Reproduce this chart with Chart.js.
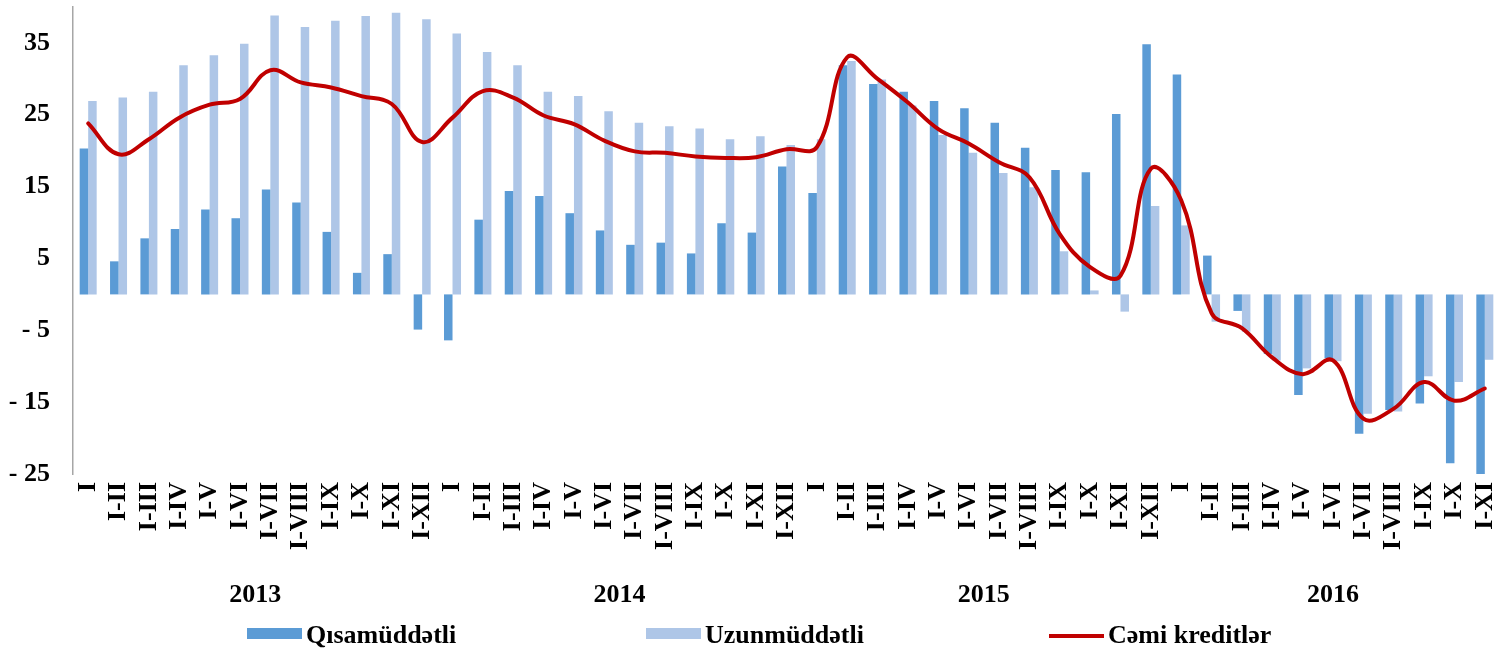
<!DOCTYPE html>
<html><head><meta charset="utf-8">
<script src="https://cdn.jsdelivr.net/npm/chart.js@4.4.0/dist/chart.umd.min.js"></script>
<style>html,body{margin:0;padding:0;background:#fff;overflow:hidden;}</style>
</head><body>
<canvas id="c" width="1512" height="654" style="display:block;width:1512px;height:654px"></canvas>
<script>
const categories = [
  'I','I-II','I-III','I-IV','I-V','I-VI','I-VII','I-VIII','I-IX','I-X','I-XI','I-XII',
  'I','I-II','I-III','I-IV','I-V','I-VI','I-VII','I-VIII','I-IX','I-X','I-XI','I-XII',
  'I','I-II','I-III','I-IV','I-V','I-VI','I-VII','I-VIII','I-IX','I-X','I-XI','I-XII',
  'I','I-II','I-III','I-IV','I-V','I-VI','I-VII','I-VIII','I-IX','I-X','I-XI'
];
const yearLabels = ['2013','2014','2015','2016'];
const yearGroupSizes = [12, 12, 12, 11];
const seriesNames = ['Qısamüddətli', 'Uzunmüddətli', 'Cəmi kreditlər'];
const shortTerm = [
  20.3, 4.6, 7.8, 9.1, 11.8, 10.6, 14.6, 12.8, 8.7, 3.0, 5.6, -4.9,
  -6.4, 10.4, 14.4, 13.7, 11.3, 8.9, 6.9, 7.2, 5.7, 9.9, 8.6, 17.8,
  14.1, 31.9, 29.3, 28.2, 26.9, 25.9, 23.9, 20.4, 17.3, 17.0, 25.1, 34.8,
  30.6, 5.4, -2.3, -8.3, -14.0, -8.9, -19.4, -16.1, -15.2, -23.5, -25.4
];
const longTerm = [
  26.9, 27.4, 28.2, 31.9, 33.3, 34.9, 38.8, 37.2, 38.1, 38.75, 39.2, 38.3,
  36.3, 33.75, 31.9, 28.2, 27.6, 25.5, 23.9, 23.4, 23.1, 21.6, 22.0, 20.8,
  21.6, 32.5, 29.9, 26.3, 22.2, 19.7, 16.9, 14.9, 6.0, 0.55, -2.4, 12.3,
  9.6, -3.8, -5.2, -9.2, -10.3, -9.3, -16.6, -16.3, -11.4, -12.2, -9.1
];
const totalCredit = [
  23.8, 19.5, 21.6, 24.6, 26.4, 27.2, 31.2, 29.5, 28.8, 27.6, 26.5, 21.2,
  24.6, 28.3, 27.4, 24.9, 23.7, 21.4, 19.9, 19.7, 19.2, 19.0, 19.1, 20.2,
  20.5, 33.0, 30.0, 26.7, 23.0, 21.0, 18.4, 16.3, 8.4, 3.8, 2.6, 17.5,
  13.1, -2.6, -4.7, -8.8, -11.1, -9.2, -17.3, -15.9, -12.2, -14.8, -13.1
];
const yTickValues = [-25, -15, -5, 5, 15, 25, 35];
const yTickLabels = ['- 25', '- 15', '- 5', '5', '15', '25', '35'];

const FONT_FAMILY = '"Liberation Serif", "Times New Roman", serif';
const baseFont = { family: FONT_FAMILY, size: 26, weight: 'bold' };
const COLORS = ['#5B9BD5', '#AEC6E7', '#C00000'];

const annotPlugin = {
  id: 'annot',
  afterDraw(chart) {
    const ctx = chart.ctx;
    const xs = chart.scales.x;
    ctx.save();
    ctx.font = 'bold 26px ' + FONT_FAMILY;
    ctx.fillStyle = '#000';
    ctx.textAlign = 'center';
    ctx.textBaseline = 'alphabetic';
    let start = 0;
    yearLabels.forEach((y, i) => {
      const end = start + yearGroupSizes[i] - 1;
      const cx = (xs.getPixelForValue(start) + xs.getPixelForValue(end)) / 2;
      ctx.fillText(y, cx, 602);
      start += yearGroupSizes[i];
    });
    const slots = [247, 646, 1049];
    ctx.textAlign = 'left';
    chart.data.datasets.forEach((ds, i) => {
      const x0 = slots[i];
      if (ds.type === 'line') {
        ctx.strokeStyle = ds.borderColor;
        ctx.lineWidth = 4;
        ctx.beginPath();
        ctx.moveTo(x0, 636);
        ctx.lineTo(x0 + 55, 636);
        ctx.stroke();
      } else {
        ctx.fillStyle = ds.backgroundColor;
        ctx.fillRect(x0, 628, 55, 11);
      }
      ctx.fillStyle = '#000';
      ctx.fillText(ds.label, x0 + 59, 643);
    });
    ctx.restore();
  }
};

new Chart(document.getElementById('c'), {
  data: {
    labels: categories,
    datasets: [
      { type: 'bar', label: seriesNames[0], data: shortTerm, backgroundColor: COLORS[0],
        categoryPercentage: 0.56, barPercentage: 1.0, borderWidth: 0, order: 1 },
      { type: 'bar', label: seriesNames[1], data: longTerm, backgroundColor: COLORS[1],
        categoryPercentage: 0.56, barPercentage: 1.0, borderWidth: 0, order: 1 },
      { type: 'line', label: seriesNames[2], data: totalCredit, borderColor: COLORS[2],
        backgroundColor: COLORS[2], borderWidth: 4, pointRadius: 0, tension: 0.4,
        fill: false, order: 0, borderCapStyle: 'round', borderJoinStyle: 'round' }
    ]
  },
  options: {
    responsive: false,
    devicePixelRatio: 1,
    animation: false,
    layout: { padding: { top: 7, right: 12, bottom: 0, left: 0 } },
    plugins: { legend: { display: false }, tooltip: { enabled: false } },
    scales: {
      x: {
        grid: { display: false, drawTicks: false },
        border: { display: false },
        ticks: { autoSkip: false, minRotation: 90, maxRotation: 90, padding: 8,
                 color: '#000', font: baseFont },
        afterFit(s) { s.height = 180; s.paddingLeft = 0; s.paddingRight = 0; }
      },
      y: {
        min: -25, max: 40,
        afterBuildTicks(s) { s.ticks = yTickValues.map(v => ({ value: v })); },
        ticks: { padding: 23, color: '#000', font: baseFont,
                 callback: (v) => yTickLabels[yTickValues.indexOf(v)] },
        grid: { display: false, drawTicks: false },
        border: { display: true, color: '#a6a6a6', width: 1.5 },
        afterFit(s) { s.width = 73; s.paddingTop = 0; s.paddingBottom = 0; }
      }
    }
  },
  plugins: [annotPlugin]
});
</script>
</body></html>
